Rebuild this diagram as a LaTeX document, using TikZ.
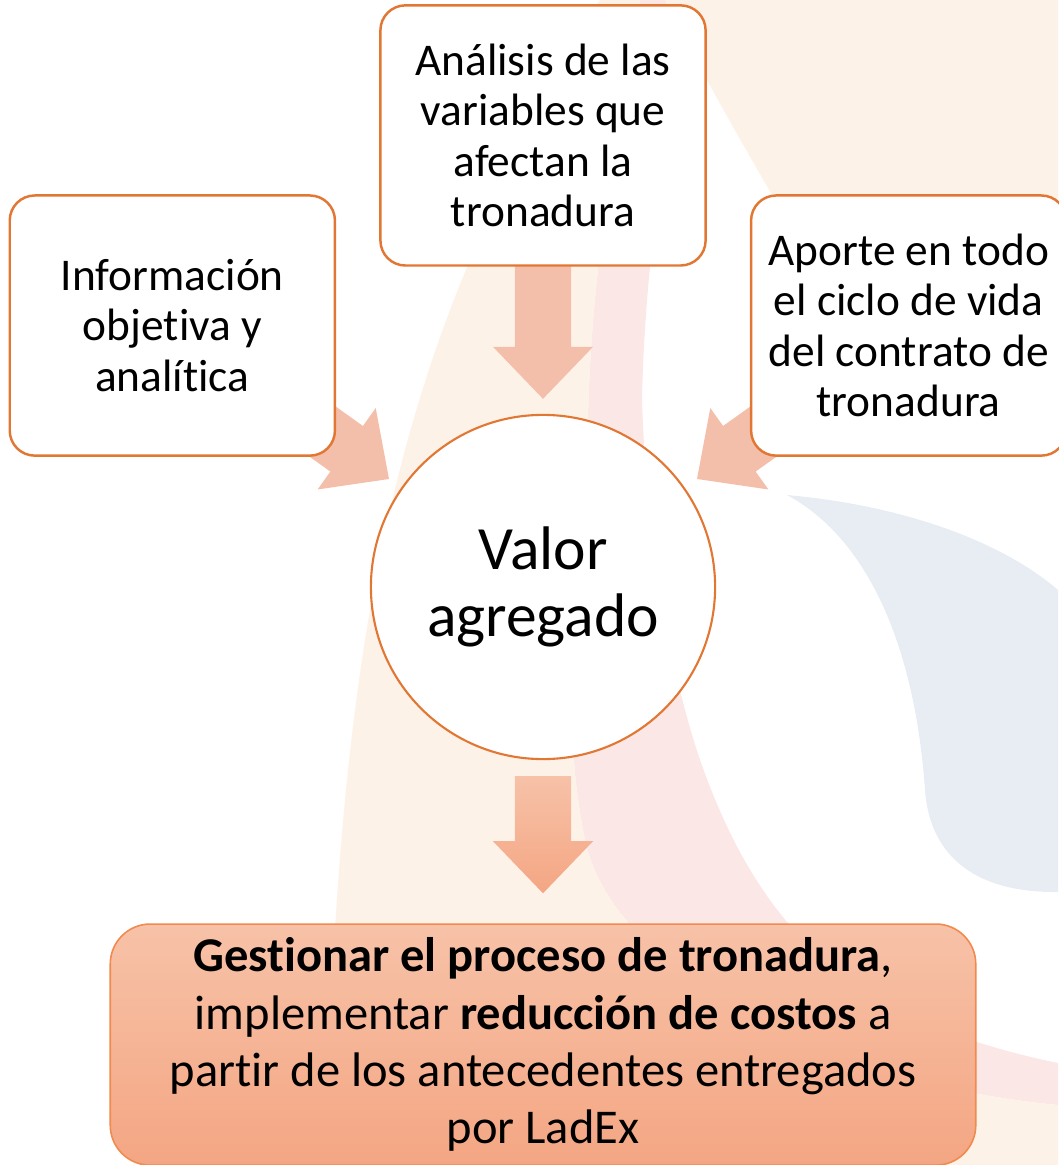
\documentclass[tikz,border=0pt]{standalone}
\usepackage{fontspec}
\setmainfont{Carlito}[Ligatures={NoCommon,NoContextual}]
\usetikzlibrary{positioning, calc, backgrounds}

\definecolor{boxline}{RGB}{226,119,52}
\definecolor{goalline}{RGB}{240,138,78}
\definecolor{goaltop}{RGB}{247,194,168}
\definecolor{goalbottom}{RGB}{244,166,131}
\definecolor{arrowpink}{RGB}{244,191,170}
\definecolor{swbeige}{RGB}{253,242,232}
\definecolor{swpink}{RGB}{251,232,230}
\definecolor{swblue}{RGB}{232,237,244}

\newcommand{\blockarrow}[3]{%
	\coordinate (ba-head) at ($(#2)!0.52cm!(#1)$);
	\path[#3] ($(#1)!0.28cm!90:(#2)$) -- ($(ba-head)!0.28cm!90:(#2)$)
		-- ($(ba-head)!0.5cm!90:(#2)$) -- (#2)
		-- ($(ba-head)!0.5cm!-90:(#2)$) -- ($(ba-head)!0.28cm!-90:(#2)$)
		-- ($(#1)!0.28cm!-90:(#2)$) -- cycle;
}

\begin{document}
\begin{tikzpicture}[
		x=0.01cm, y=-0.01cm,
		font=\fontsize{12.9}{14.3}\selectfont,
		node distance=1.47cm and 0.43cm,
		box/.style={
			draw=boxline,
			line width=0.7pt,
			fill=white,
			rounded corners=2.5mm,
			align=center,
			minimum width=3.25cm,
			minimum height=2.6cm,
			inner sep=0pt
		},
		valorcirc/.style={circle,draw=boxline,line width=0.6pt,fill=white,
			minimum size=3.44cm,inner sep=0pt,align=center,
			font=\fontsize{17.5}{19}\selectfont},
		goalbox/.style={box,draw=goalline,line width=0.45pt,rounded corners=4mm,
			top color=goaltop,bottom color=goalbottom,
			minimum width=8.65cm,minimum height=2.41cm,
			font=\fontsize{13.8}{16.3}\selectfont},
		flatarrow/.style={fill=arrowpink},
		shadearrow/.style={top color=goaltop!90!arrowpink,bottom color=goalbottom}
	]
	\useasboundingbox (0,0) rectangle (1058,1165);
	
	\node[valorcirc] (valor) at (543,587) {Valor\\agregado};
	\node[box,above=of valor] (analisis) {Análisis de las\\variables que\\afectan la\\tronadura};
	\node[box,left=of analisis,yshift=-1.9cm] (info) {Información\\objetiva y\\analítica};
	\node[box,right=of analisis,yshift=-1.9cm,minimum width=3.15cm] (aporte) {Aporte en todo\\el ciclo de vida\\del contrato de\\tronadura};
	\node[goalbox,below=1.63cm of valor] (gestion) {\textbf{Gestionar el proceso de tronadura},\\implementar \textbf{reducción de costos} a\\partir de los antecedentes entregados\\por LadEx};
	
	\coordinate (topstart) at ($(analisis.south)+(0,-8)$);
	\coordinate (toptip) at ($(valor.north)+(0,-15)$);
	\coordinate (leftstart) at ($(info.south east)+(-44,-47)$);
	\coordinate (lefttip) at ($(valor.center)+(-154,-108)$);
	\coordinate (rightstart) at ($(aporte.south west)+(44,-47)$);
	\coordinate (righttip) at ($(valor.center)+(154,-108)$);
	\coordinate (downstart) at ($(valor.south)+(0,16)$);
	\coordinate (downtip) at ($(gestion.north)+(0,-30)$);
	
	\begin{scope}[on background layer]
		\fill[swpink] (640,0) .. controls (610,150) and (590,300) .. (588,420)
			.. controls (575,600) and (560,720) .. (585,840)
			.. controls (610,960) and (800,1080) .. (1058,1105) -- (1058,1063)
			.. controls (850,1020) and (760,930) .. (700,760)
			.. controls (660,640) and (645,500) .. (642,400)
			.. controls (645,250) and (670,100) .. (695,0) -- cycle;
		\fill[swbeige] (325,1165) .. controls (335,800) and (360,520) .. (470,260)
			.. controls (520,150) and (560,60) .. (600,0) -- (640,0)
			.. controls (610,150) and (590,300) .. (588,420)
			.. controls (575,600) and (560,720) .. (585,840)
			.. controls (610,960) and (800,1080) .. (1058,1105) -- (1058,1165) -- cycle;
		\fill[swbeige] (665,0) -- (1058,0) -- (1058,430)
			.. controls (950,380) and (820,280) .. (775,200)
			.. controls (740,140) and (700,70) .. (665,0) -- cycle;
		\fill[swblue] (787,495) .. controls (900,505) and (1000,540) .. (1058,590)
			-- (1058,892) .. controls (980,893) and (930,860) .. (925,790)
			.. controls (915,650) and (870,540) .. (787,495) -- cycle;
		
		\blockarrow{topstart}{toptip}{flatarrow}
		\blockarrow{leftstart}{lefttip}{flatarrow}
		\blockarrow{rightstart}{righttip}{flatarrow}
		\blockarrow{downstart}{downtip}{shadearrow}
	\end{scope}
	
\end{tikzpicture}
\end{document}
